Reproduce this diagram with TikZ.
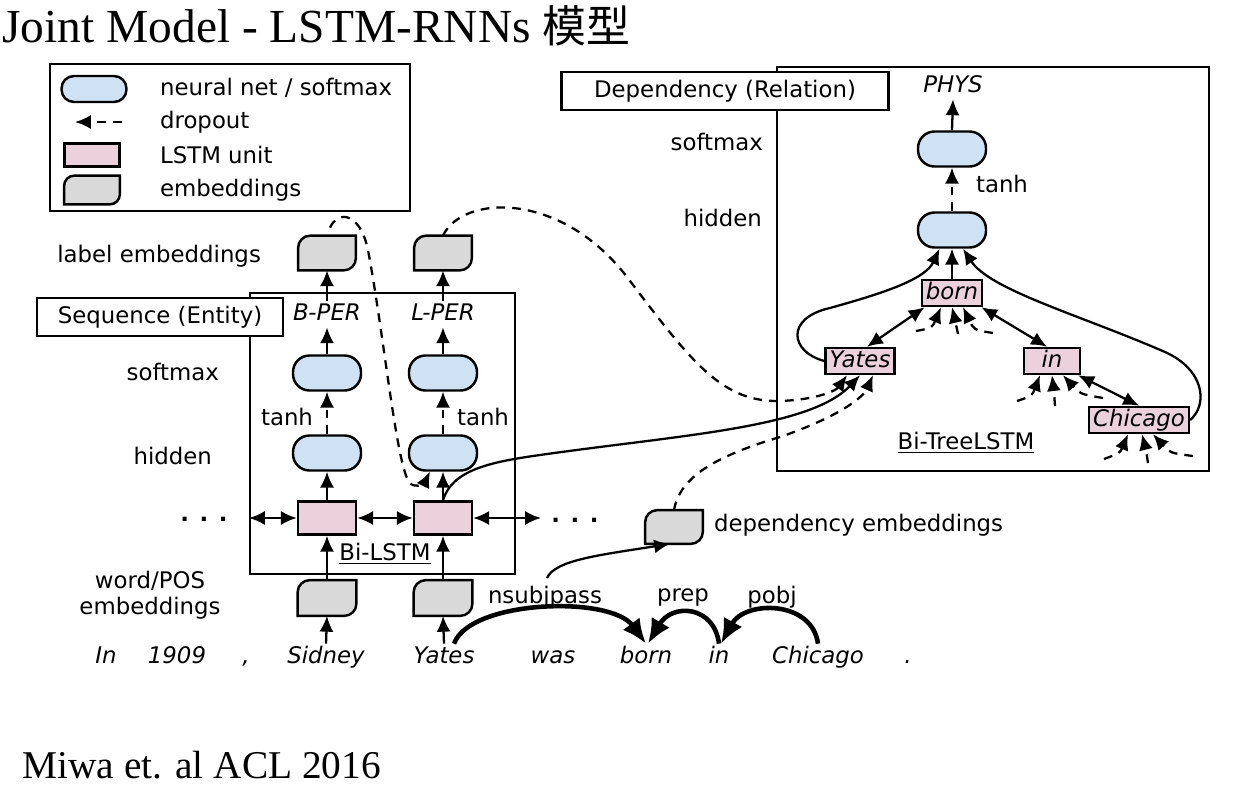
\documentclass[tikz,border=0pt]{standalone}
\usepackage{fontspec}
\setmainfont{Liberation Serif}
\newfontfamily\dejavu{DejaVu Sans}[ItalicFont={DejaVu Sans Oblique}]
\newfontfamily\cjk{Noto Sans CJK SC}
\usetikzlibrary{arrows.meta}

\definecolor{nnblue}{RGB}{207,226,243}
\definecolor{lstmpink}{RGB}{234,209,220}
\definecolor{embgray}{RGB}{217,217,217}
\newcommand{\lblfont}{\dejavu\fontsize{13}{15}\selectfont}
% leaf shaped outline of an embedding node
\newcommand{\embshape}[2]{%
  \draw[embline] (#1.south west) -- ([yshift=-#2 cm]#1.north west)
    arc[start angle=180, end angle=90, radius=#2 cm] -- (#1.north east)
    -- ([yshift=#2 cm]#1.south east)
    arc[start angle=0, end angle=-90, radius=#2 cm] -- cycle;}

\tikzset{
  lbl/.style={font=\lblfont, inner sep=1pt},
  word/.style={font=\lblfont\itshape, text height=0.34cm, text depth=0.1cm, inner sep=0.04cm},
  nnet/.style={draw, line width=1.4pt, fill=nnblue, rounded corners=0.33cm, minimum width=1.36cm, minimum height=0.7cm},
  lstm/.style={draw, line width=1.4pt, fill=lstmpink, minimum width=1.16cm, minimum height=0.66cm},
  tlstm/.style={draw, line width=1.4pt, fill=lstmpink, font=\lblfont\itshape, text height=0.34cm, text depth=0.1cm, inner xsep=0.08cm, inner ysep=0.04cm},
  embed/.style={minimum width=1.14cm, minimum height=0.68cm, inner sep=0pt},
  embline/.style={draw, line width=1.4pt, fill=embgray},
  frame/.style={draw, line width=1.4pt},
  tag/.style={draw, line width=1.4pt, fill=white, font=\lblfont, minimum height=0.77cm},
  arr/.style={line width=1.3pt, -{Latex[length=9pt,width=8pt]}},
  biarr/.style={line width=1.3pt, {Latex[length=9pt,width=8pt]}-{Latex[length=9pt,width=8pt]}},
  drop/.style={arr, dash pattern=on 5pt off 4pt},
  deparc/.style={line width=2.6pt, -{Latex[length=14pt,width=12pt]}},
}

\begin{document}
\begin{tikzpicture}[x=0.02cm, y=-0.02cm]
	\useasboundingbox (0,0) rectangle (1254,788);
	\fill[white] (0,0) rectangle (1254,788);
	
	% title and source
	\node[anchor=base west, inner sep=0pt] (title) at (2,42) {\fontsize{27}{30}\selectfont Joint Model - LSTM-RNNs {\cjk\fontsize{25}{30}\selectfont 模型}};
	\node[anchor=base west, inner sep=0pt] (source) at (22,778) {\fontsize{22.4}{26}\selectfont Miwa et. al ACL 2016};
	
	% legend
	\draw[frame] (50,64) rectangle (410,211);
	\node[nnet, minimum width=1.3cm, minimum height=0.52cm, rounded corners=0.25cm] (legnn) at (94,89) {};
	\coordinate (legdA) at (75,122);
	\coordinate (legdB) at (122,122);
	\draw[drop] (legdB) -- (legdA);
	\node[lstm, minimum width=1.1cm, minimum height=0.46cm] (leglstm) at (92,155) {};
	\node[embed, minimum width=1.1cm, minimum height=0.56cm] (legemb) at (92,190) {};
	\embshape{legemb}{0.2}
	\node[lbl, anchor=west] (legt1) at (158,88) {neural net / softmax};
	\node[lbl, anchor=west] (legt2) at (158,122) {dropout};
	\node[lbl, anchor=west] (legt3) at (158,155) {LSTM unit};
	\node[lbl, anchor=west] (legt4) at (158,190) {embeddings};
	
	% sequence (entity) layer
	\draw[frame] (250,293) rectangle (515,574);
	\node[tag, minimum width=4.92cm] (seqtag) at (160,317) {Sequence (Entity)};
	\node[lbl, anchor=east] (lembl) at (263,256) {label embeddings};
	\node[lbl, anchor=east] (lsoft) at (221,372) {softmax};
	\node[lbl, anchor=east] (lhid) at (214,456) {hidden};
	\node[lbl, anchor=base] (ldots) at (204,521) {\textbf{. . .}};
	\node[lbl, align=center] (lwpos) at (150,595) {word/POS\\embeddings};
	
	\node[embed] (embL) at (327,253) {};
	\node[word] (bper) at (327,314) {B-PER};
	\node[nnet] (soft1) at (327,373) {};
	\node[nnet] (hid1) at (327,453) {};
	\node[lstm] (lstm1) at (327,518) {};
	\node[embed, minimum width=1.16cm, minimum height=0.7cm] (wemb1) at (327,598) {};
	
	\node[embed] (embR) at (443,253) {};
	\node[word] (lper) at (443,314) {L-PER};
	\node[nnet] (soft2) at (443,373) {};
	\node[nnet] (hid2) at (443,453) {};
	\node[lstm] (lstm2) at (443,518) {};
	\node[embed, minimum width=1.16cm, minimum height=0.7cm] (wemb2) at (443,598) {};
	
	\embshape{embL}{0.24}
	\embshape{embR}{0.24}
	\embshape{wemb1}{0.24}
	\embshape{wemb2}{0.24}
	
	\node[lbl] (tanh1) at (287,417) {tanh};
	\node[lbl] (tanh2) at (483,417) {tanh};
	\node[lbl] (bilstm) at (385,554) {\underline{Bi-LSTM}};
	\node[lbl, anchor=base] (rdots) at (575,522) {\textbf{. . .}};
	
	% sentence
	\node[word] (w1) at (106,657) {In};
	\node[word] (w2) at (177,657) {1909};
	\node[word] (w3) at (246,657) {,};
	\node[word] (sidw) at (326,657) {Sidney};
	\node[word] (yatesw) at (444,657) {Yates};
	\node[word] (wasw) at (553,657) {was};
	\node[word] (bornw) at (646,657) {born};
	\node[word] (inw) at (719,657) {in};
	\node[word] (chicw) at (818,657) {Chicago};
	\node[word] (w10) at (908,657) {.};
	
	% column arrows
	\draw[arr] (sidw.north) -- (wemb1.south);
	\draw[arr] (wemb1.north) -- (lstm1.south);
	\draw[arr] (lstm1.north) -- (hid1.south);
	\draw[drop] (hid1.north) -- (soft1.south);
	\draw[arr] (soft1.north) -- (bper.south);
	\draw[arr] (bper.north) -- (embL.south);
	\draw[arr] (yatesw.north) -- (wemb2.south);
	\draw[arr] (wemb2.north) -- (lstm2.south);
	\draw[arr] (lstm2.north) -- (hid2.south);
	\draw[drop] (hid2.north) -- (soft2.south);
	\draw[arr] (soft2.north) -- (lper.south);
	\draw[arr] (lper.north) -- (embR.south);
	
	\coordinate (lend) at (249,518);
	\coordinate (rend) at (541,518);
	\draw[biarr] (lend) -- (lstm1.west);
	\draw[biarr] (lstm1.east) -- (lstm2.west);
	\draw[biarr] (lstm2.east) -- (rend);
	
	% label embedding of previous word into next hidden layer
	\draw[drop] ([xshift=0.06cm,yshift=0.16cm]embL.north) .. controls (338,210) and (360,212) .. (368,250)
		.. controls (384,335) and (396,462) .. (409,482) .. controls (414,489) and (424,484) .. ([xshift=-0.26cm]hid2.south);
	
	% dependency (relation) layer
	\draw[frame] (777,67) rectangle (1209,471);
	\node[tag, minimum width=6.54cm] (deptag) at (725,91) {Dependency (Relation)};
	\node[lbl, anchor=east] (tsoftl) at (765,142) {softmax};
	\node[lbl, anchor=east] (thidl) at (764,218) {hidden};
	
	\node[word] (phys) at (953,86) {PHYS};
	\node[nnet] (tsoft) at (952,149) {};
	\node[lbl] (tanh3) at (1002,184) {tanh};
	\node[nnet] (thid) at (952,230) {};
	\node[tlstm] (born) at (952,293) {born};
	\node[tlstm] (yates) at (860,361) {Yates};
	\node[tlstm, minimum width=1.12cm] (tin) at (1052,361) {in};
	\node[tlstm] (chic) at (1139,420) {Chicago};
	\node[lbl] (btree) at (966,443) {\underline{Bi-TreeLSTM}};
	
	\draw[arr] (tsoft.north) -- (phys.south);
	\draw[drop] (thid.north) -- (tsoft.south);
	\draw[arr] (born.north) -- (thid.south);
	\draw[arr] (yates.west) .. controls (790,352) and (785,318) .. (830,308)
		.. controls (880,294) and (925,280) .. ([xshift=-0.25cm]thid.south);
	\draw[arr] (chic.east) .. controls (1208,405) and (1205,370) .. (1165,352)
		.. controls (1080,315) and (990,290) .. ([xshift=0.22cm]thid.south);
	\draw[biarr] ([xshift=0.08cm]born.south west) -- ([xshift=0.14cm]yates.north);
	\draw[biarr] ([xshift=-0.04cm]born.south east) -- ([xshift=-0.1cm]tin.north);
	\draw[biarr] ([xshift=-0.06cm]tin.south east) -- (chic.north);
	
	% dropout inputs from below
	\coordinate (bd1) at (916,331);
	\coordinate (bd2) at (958,334);
	\coordinate (bd3) at (993,333);
	\draw[drop] (bd1) .. controls (932,328) .. ([xshift=-0.22cm]born.south);
	\draw[drop] (bd2) .. controls (955,320) .. (born.south);
	\draw[drop] (bd3) .. controls (974,330) .. ([xshift=0.22cm]born.south);
	\coordinate (id1) at (1017,401);
	\coordinate (id2) at (1055,406);
	\coordinate (id3) at (1103,398);
	\draw[drop] (id1) .. controls (1032,396) .. ([xshift=-0.24cm]tin.south);
	\draw[drop] (id2) .. controls (1054,392) .. (tin.south);
	\draw[drop] (id3) .. controls (1080,394) .. ([xshift=0.22cm]tin.south);
	\coordinate (cd1) at (1104,459);
	\coordinate (cd2) at (1148,463);
	\coordinate (cd3) at (1193,456);
	\draw[drop] (cd1) .. controls (1120,453) .. ([xshift=-0.22cm]chic.south);
	\draw[drop] (cd2) .. controls (1146,450) .. ([xshift=0.06cm]chic.south);
	\draw[drop] (cd3) .. controls (1170,453) .. ([xshift=0.28cm]chic.south);
	
	% inputs of Yates
	\draw[drop] (embR.north) .. controls (462,195) and (560,190) .. (627,277)
		.. controls (690,360) and (720,400) .. (775,401) .. controls (810,401) and (835,392) .. ([xshift=-0.26cm]yates.south);
	\draw[arr] (lstm2.north) .. controls (452,470) and (490,462) .. (540,455)
		.. controls (680,435) and (810,428) .. (yates.south);
	\node[embed, minimum height=0.66cm] (demb) at (674,527) {};
	\embshape{demb}{0.24}
	\node[lbl, anchor=west] (dembt) at (712,525) {dependency embeddings};
	\draw[drop] (demb.north) .. controls (680,475) and (720,455) .. (780,437)
		.. controls (830,420) and (862,400) .. ([xshift=0.26cm]yates.south);
	
	% dependency arcs
	\node[lbl] (nsub) at (545,597) {nsubjpass};
	\node[lbl] (prep) at (683,597) {prep};
	\node[lbl] (pobj) at (772,597) {pobj};
	\coordinate (nsubtop) at (547,578);
	\draw[arr] (nsubtop) .. controls (555,560) and (600,555) .. ([xshift=-0.08cm]demb.south);
	\draw[deparc] ([xshift=0.2cm]yatesw.north) .. controls (470,600) and (610,595) .. (bornw.north);
	\draw[deparc] (inw.north) .. controls (714,605) and (672,603) .. ([xshift=0.04cm]bornw.north);
	\draw[deparc] (chicw.north) .. controls (812,600) and (745,600) .. ([xshift=0.04cm]inw.north);
	
\end{tikzpicture}
\end{document}
